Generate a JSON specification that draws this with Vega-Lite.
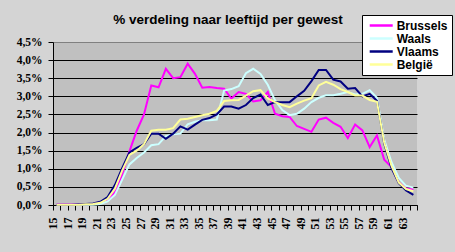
{
  "$schema": "https://vega.github.io/schema/vega-lite/v6.json",
  "width": 364,
  "height": 163,
  "autosize": {"type": "none"},
  "padding": {"left": 53, "top": 42, "right": 38, "bottom": 47},
  "background": "#D4D4D4",
  "title": {"text": "% verdeling naar leeftijd per gewest", "font": "Liberation Sans", "fontSize": 13.5, "fontWeight": "bold", "color": "black", "anchor": "middle", "dx": -7, "baseline": "alphabetic", "offset": -23},
  "config": {"view": {"fill": "#C0C0C0", "stroke": null}},
  "data": {"values": [
    {"age": 15, "Brussels": 0.02, "Waals": 0.01, "Vlaams": 0.01, "België": 0.01},
    {"age": 16, "Brussels": 0.02, "Waals": 0.01, "Vlaams": 0.01, "België": 0.01},
    {"age": 17, "Brussels": 0.02, "Waals": 0.01, "Vlaams": 0.01, "België": 0.01},
    {"age": 18, "Brussels": 0.02, "Waals": 0.01, "Vlaams": 0.02, "België": 0.01},
    {"age": 19, "Brussels": 0.02, "Waals": 0.01, "Vlaams": 0.03, "België": 0.02},
    {"age": 20, "Brussels": 0.03, "Waals": 0.01, "Vlaams": 0.04, "België": 0.03},
    {"age": 21, "Brussels": 0.08, "Waals": 0.03, "Vlaams": 0.09, "België": 0.06},
    {"age": 22, "Brussels": 0.15, "Waals": 0.10, "Vlaams": 0.22, "België": 0.17},
    {"age": 23, "Brussels": 0.35, "Waals": 0.28, "Vlaams": 0.55, "België": 0.45},
    {"age": 24, "Brussels": 0.85, "Waals": 0.70, "Vlaams": 1.02, "België": 0.95},
    {"age": 25, "Brussels": 1.48, "Waals": 1.12, "Vlaams": 1.45, "België": 1.38},
    {"age": 26, "Brussels": 2.05, "Waals": 1.30, "Vlaams": 1.58, "België": 1.50},
    {"age": 27, "Brussels": 2.50, "Waals": 1.45, "Vlaams": 1.68, "België": 1.68},
    {"age": 28, "Brussels": 3.30, "Waals": 1.65, "Vlaams": 1.97, "België": 2.05},
    {"age": 29, "Brussels": 3.25, "Waals": 1.68, "Vlaams": 1.97, "België": 2.08},
    {"age": 30, "Brussels": 3.76, "Waals": 1.90, "Vlaams": 1.83, "België": 2.08},
    {"age": 31, "Brussels": 3.50, "Waals": 1.95, "Vlaams": 1.97, "België": 2.12},
    {"age": 32, "Brussels": 3.53, "Waals": 1.97, "Vlaams": 2.17, "België": 2.36},
    {"age": 33, "Brussels": 3.90, "Waals": 2.23, "Vlaams": 2.08, "België": 2.38},
    {"age": 34, "Brussels": 3.62, "Waals": 2.30, "Vlaams": 2.22, "België": 2.43},
    {"age": 35, "Brussels": 3.24, "Waals": 2.34, "Vlaams": 2.35, "België": 2.48},
    {"age": 36, "Brussels": 3.26, "Waals": 2.34, "Vlaams": 2.40, "België": 2.52},
    {"age": 37, "Brussels": 3.23, "Waals": 2.36, "Vlaams": 2.50, "België": 2.60},
    {"age": 38, "Brussels": 3.21, "Waals": 3.16, "Vlaams": 2.72, "België": 2.87},
    {"age": 39, "Brussels": 2.94, "Waals": 3.20, "Vlaams": 2.72, "België": 2.89},
    {"age": 40, "Brussels": 3.12, "Waals": 3.28, "Vlaams": 2.66, "België": 2.90},
    {"age": 41, "Brussels": 3.07, "Waals": 3.64, "Vlaams": 2.76, "België": 3.02},
    {"age": 42, "Brussels": 2.86, "Waals": 3.76, "Vlaams": 2.95, "België": 3.14},
    {"age": 43, "Brussels": 2.89, "Waals": 3.62, "Vlaams": 3.05, "België": 3.17},
    {"age": 44, "Brussels": 3.12, "Waals": 3.32, "Vlaams": 2.76, "België": 2.94},
    {"age": 45, "Brussels": 2.52, "Waals": 2.89, "Vlaams": 2.84, "België": 2.84},
    {"age": 46, "Brussels": 2.45, "Waals": 2.62, "Vlaams": 2.84, "België": 2.76},
    {"age": 47, "Brussels": 2.43, "Waals": 2.48, "Vlaams": 2.84, "België": 2.70},
    {"age": 48, "Brussels": 2.18, "Waals": 2.52, "Vlaams": 3.00, "België": 2.80},
    {"age": 49, "Brussels": 2.10, "Waals": 2.66, "Vlaams": 3.15, "België": 2.88},
    {"age": 50, "Brussels": 2.02, "Waals": 2.84, "Vlaams": 3.42, "België": 2.95},
    {"age": 51, "Brussels": 2.36, "Waals": 2.96, "Vlaams": 3.73, "België": 3.30},
    {"age": 52, "Brussels": 2.41, "Waals": 3.03, "Vlaams": 3.73, "België": 3.40},
    {"age": 53, "Brussels": 2.27, "Waals": 3.03, "Vlaams": 3.46, "België": 3.32},
    {"age": 54, "Brussels": 2.16, "Waals": 3.07, "Vlaams": 3.41, "België": 3.20},
    {"age": 55, "Brussels": 1.85, "Waals": 3.12, "Vlaams": 3.21, "België": 3.12},
    {"age": 56, "Brussels": 2.22, "Waals": 3.05, "Vlaams": 3.23, "België": 3.02},
    {"age": 57, "Brussels": 2.06, "Waals": 3.07, "Vlaams": 3.00, "België": 3.02},
    {"age": 58, "Brussels": 1.60, "Waals": 3.17, "Vlaams": 3.07, "België": 2.90},
    {"age": 59, "Brussels": 1.92, "Waals": 2.96, "Vlaams": 2.88, "België": 2.85},
    {"age": 60, "Brussels": 1.25, "Waals": 1.80, "Vlaams": 1.70, "België": 1.72},
    {"age": 61, "Brussels": 1.05, "Waals": 1.18, "Vlaams": 1.02, "België": 1.08},
    {"age": 62, "Brussels": 0.62, "Waals": 0.75, "Vlaams": 0.60, "België": 0.62},
    {"age": 63, "Brussels": 0.46, "Waals": 0.53, "Vlaams": 0.40, "België": 0.44},
    {"age": 64, "Brussels": 0.42, "Waals": 0.48, "Vlaams": 0.28, "België": 0.38}
  ]},
  "transform": [{"fold": ["Brussels", "Waals", "Vlaams", "België"], "as": ["gewest", "pct"]}],
  "mark": {"type": "line", "strokeWidth": 2},
  "encoding": {
    "x": {
      "field": "age", "type": "ordinal",
      "scale": {"type": "band", "paddingInner": 0, "paddingOuter": 0},
      "axis": {"title": null, "labelAngle": -90, "labelExpr": "datum.value % 2 == 1 ? datum.label : ''", "labelFont": "Liberation Serif", "labelFontSize": 12, "labelFontWeight": "bold", "labelColor": "black", "labelPadding": 7, "labelOffset": -4, "labelOverlap": false, "labelBound": false, "tickBand": "extent", "tickSize": 5, "tickColor": "black", "domainColor": "black", "grid": false}
    },
    "y": {
      "field": "pct", "type": "quantitative",
      "scale": {"domain": [0, 4.5], "nice": false},
      "axis": {"title": null, "values": [0, 0.5, 1, 1.5, 2, 2.5, 3, 3.5, 4, 4.5], "labelExpr": "replace(format(datum.value, '.1f'), '.', ',') + '%'", "labelFont": "Liberation Serif", "labelFontSize": 11.5, "labelFontWeight": "bold", "labelColor": "black", "labelPadding": 6, "tickSize": 5, "tickColor": "black", "domainColor": "black", "grid": true, "gridColor": {"condition": {"test": "datum.value >= 4.5", "value": "#808080"}, "value": "black"}, "gridOpacity": 1}
    },
    "color": {
      "field": "gewest", "type": "nominal",
      "scale": {"domain": ["Brussels", "Waals", "Vlaams", "België"], "range": ["#FF00FF", "#CCFFFF", "#000080", "#FFFF99"]},
      "legend": {"title": null, "orient": "none", "legendX": 309, "legendY": -27, "fillColor": "white", "strokeColor": "black", "padding": 4, "symbolType": "M-2.3,0H2.3", "symbolSize": 100, "symbolStrokeWidth": 2.5, "symbolOffset": 8.7, "labelOffset": 9, "labelFont": "Liberation Sans", "labelFontSize": 12, "labelFontWeight": "bold", "labelColor": "black", "rowPadding": -2.5}
    }
  }
}
